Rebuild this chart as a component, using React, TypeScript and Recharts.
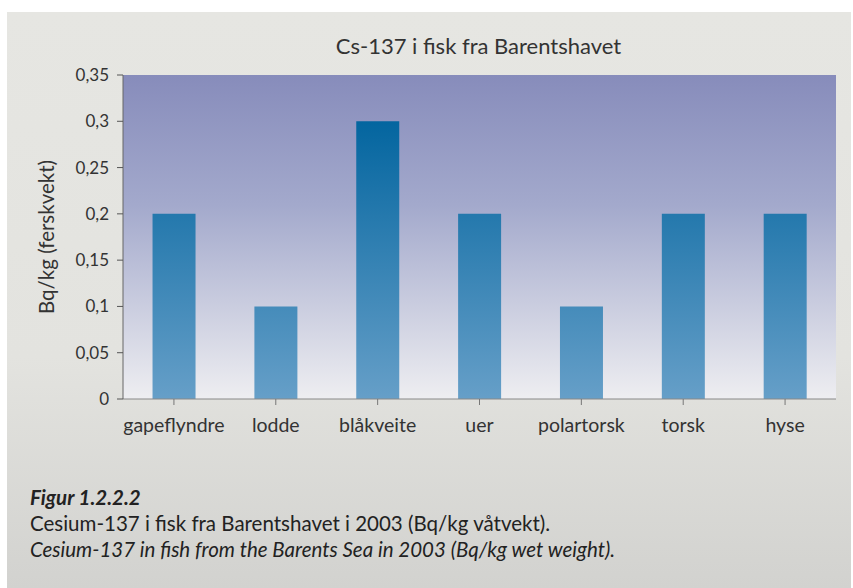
import { BarChart, Bar, XAxis, YAxis, CartesianGrid, Label } from "recharts";

const fish = ["gapeflyndre", "lodde", "blåkveite", "uer", "polartorsk", "torsk", "hyse"];
const cs137 = [0.2, 0.1, 0.3, 0.2, 0.1, 0.2, 0.2];
const yTicks = [0, 0.05, 0.1, 0.15, 0.2, 0.25, 0.3, 0.35];

const data = fish.map((name, i) => ({ name, value: cs137[i] }));

const font = "Lato, 'Open Sans', sans-serif";
const fmt = (v: number) => String(v).replace(".", ",");

export default function App() {
  return (
    <div
      style={{
        position: "fixed",
        left: 0,
        top: 0,
        width: 853,
        height: 588,
        background: "#fff",
        fontFamily: font,
      }}
    >
      <div
        style={{
          position: "absolute",
          left: 7,
          top: 12,
          width: 844,
          height: 576,
          background: "linear-gradient(#e6e6e2 0%, #e3e3df 60%, #d2d2cf 100%)",
        }}
      />
      <div
        style={{
          position: "absolute",
          left: 0,
          width: 853,
          top: 32,
          textAlign: "center",
          paddingLeft: 104,
          boxSizing: "border-box",
          fontSize: 22,
          color: "#333",
        }}
      >
        Cs-137 i fisk fra Barentshavet
      </div>
      <div style={{ position: "absolute", left: 0, top: 0 }}>
        <BarChart
          width={853}
          height={588}
          data={data}
          margin={{ top: 75, right: 17, bottom: 159, left: 63 }}
          barCategoryGap="29%"
        >
          <defs>
            <linearGradient id="plotBg" gradientUnits="userSpaceOnUse" x1="0" y1="75" x2="0" y2="399">
              <stop offset="0%" stopColor="#878cbb" />
              <stop offset="40%" stopColor="#a3a9cc" />
              <stop offset="100%" stopColor="#eeeef1" />
            </linearGradient>
            <linearGradient id="barFill" gradientUnits="userSpaceOnUse" x1="0" y1="75" x2="0" y2="399">
              <stop offset="0%" stopColor="#005a98" />
              <stop offset="14%" stopColor="#03659f" />
              <stop offset="100%" stopColor="#669fc8" />
            </linearGradient>
          </defs>
          <CartesianGrid horizontal={false} vertical={false} fill="url(#plotBg)" />
          <XAxis
            dataKey="name"
            height={30}
            tickSize={6}
            tickLine={{ stroke: "#777" }}
            axisLine={{ stroke: "#888" }}
            tick={{ fill: "#333", fontSize: 19.5, fontFamily: font }}
            tickMargin={13}
            interval={0}
          />
          <YAxis
            width={60}
            domain={[0, 0.35]}
            ticks={yTicks}
            tickFormatter={fmt}
            tickSize={6}
            tickLine={{ stroke: "#555" }}
            axisLine={{ stroke: "#666" }}
            tick={{ fill: "#333", fontSize: 17, fontFamily: font }}
            tickMargin={8}
          >
            <Label
              value="Bq/kg (ferskvekt)"
              angle={-90}
              position="left"
              offset={16}
              style={{ fill: "#333", fontSize: 20.5, fontFamily: font, textAnchor: "middle" }}
            />
          </YAxis>
          <Bar dataKey="value" fill="url(#barFill)" isAnimationActive={false} />
        </BarChart>
      </div>
      <div style={{ position: "absolute", left: 30, top: 484, color: "#222", fontSize: 20.5, lineHeight: "26px" }}>
        <div style={{ fontWeight: 700, fontStyle: "italic" }}>Figur 1.2.2.2</div>
        <div>Cesium-137 i fisk fra Barentshavet i 2003 (Bq/kg våtvekt).</div>
        <div style={{ fontStyle: "italic" }}>Cesium-137 in fish from the Barents Sea in 2003 (Bq/kg wet weight).</div>
      </div>
    </div>
  );
}
